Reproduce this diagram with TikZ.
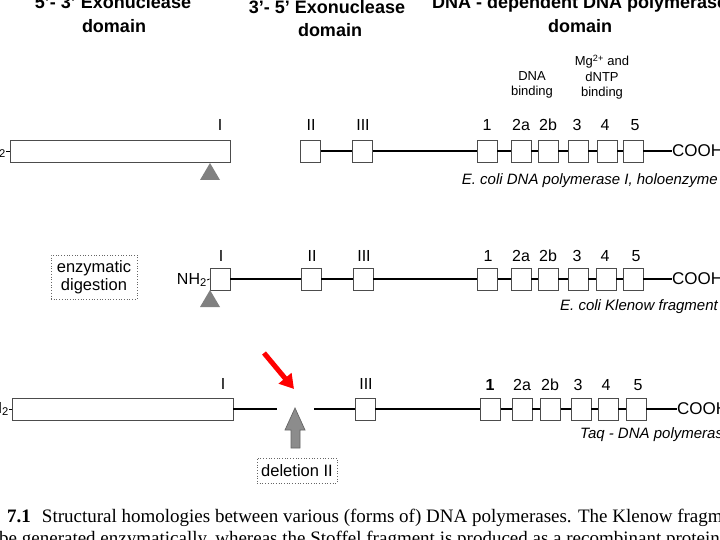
\documentclass[tikz,border=0pt]{standalone}
\usepackage{fontspec}
\setmainfont{Liberation Sans}
\newfontfamily\capserif{Liberation Serif}
\usetikzlibrary{arrows.meta}
\begin{document}
\begin{tikzpicture}[x=1pt,y=-1pt,
  dbox/.style={draw=black!70, fill=white, line width=0.8pt, minimum width=20pt, minimum height=22pt, inner sep=0pt},
  lbl/.style={font=\fontsize{16}{16}\selectfont, inner sep=0pt},
  cooh/.style={font=\fontsize{17}{17}\selectfont, inner sep=0pt},
  hdr/.style={font=\fontsize{18}{22}\selectfont\bfseries, inner sep=0pt, align=center},
  small/.style={font=\fontsize{13}{15.5}\selectfont, inner sep=0pt, align=center},
  capit/.style={font=\fontsize{15}{15}\selectfont\itshape, inner sep=0pt},
  link/.style={line width=1.7pt, black},
  dotbox/.style={draw=black!60, dotted, line width=0.7pt, font=\fontsize{16.5}{18.5}\selectfont, align=center, inner sep=0pt},
  tri/.style={fill=black!50},
  blockarrow/.style={fill=black!45, draw=black!60, line width=0.7pt},
  redarrow/.style={draw=red, line width=5pt, -{Triangle[width=16pt,length=14pt]}},
  figcap/.style={font=\capserif\fontsize{19}{22}\selectfont, inner sep=0pt}
]
\useasboundingbox (0,0) rectangle (720,540);
\clip (0,0) rectangle (720,540);
\fill[white] (0,0) rectangle (720,540);

% ---------- headers ----------
\node[hdr] (h1) at (113,2) {5'- 3' Exonuclease};
\node[hdr] (h1b) at (114,26) {domain};
\node[hdr] (h2) at (327,7) {3'- 5' Exonuclease};
\node[hdr] (h2b) at (330,30) {domain};
\node[hdr, anchor=west] (h3) at (432,4) {DNA - dependent DNA polymerase};
\node[hdr] (h3b) at (580,26) {domain};
\node[small] (dnab) at (532,85) {DNA\\binding};
\node[small] (mgb) at (602,77) {Mg\textsuperscript{2+} and\\dNTP\\binding};

% ---------- row 1: holoenzyme ----------
\node[dbox, minimum width=220pt] (aI) at (120,151) {};
\node[lbl, anchor=east] (aN) at (6,151) {NH\textsubscript{2}};
\draw[line width=0.8pt] (aN.east) -- (aI.west);
\node[dbox] (aII) at (310.5,151) {};
\node[dbox] (aIII) at (362.5,151) {};
\node[dbox] (a1) at (487,151) {};
\node[dbox] (a2a) at (521,151) {};
\node[dbox] (a2b) at (548,151) {};
\node[dbox] (a3) at (578,151) {};
\node[dbox] (a4) at (607,151) {};
\node[dbox] (a5) at (633,151) {};
\node[cooh, anchor=west] (aC) at (672,151) {COOH};
\draw[link] (aII) -- (aIII) -- (a1) -- (a2a) -- (a2b) -- (a3) -- (a4) -- (a5) -- (aC);
\node[lbl] (laI) at (220,125) {I};
\node[lbl] (laII) at (311,125) {II};
\node[lbl] (laIII) at (363,125) {III};
\node[lbl] (la1) at (487,125) {1};
\node[lbl] (la2a) at (521,125) {2a};
\node[lbl] (la2b) at (548,125) {2b};
\node[lbl] (la3) at (577,125) {3};
\node[lbl] (la4) at (605,125) {4};
\node[lbl] (la5) at (635,125) {5};
\fill[tri] (200,180) -- (210,163) -- (220,180) -- cycle;
\node[capit, anchor=east] (capA) at (718,181) {E. coli DNA polymerase I, holoenzyme};

% ---------- row 2: Klenow ----------
\node[dotbox, minimum width=86pt, minimum height=44pt] (enz) at (94,277) {enzymatic\\digestion};
\node[dbox] (bI) at (220,279) {};
\node[lbl, anchor=east] (bN) at (207,280) {NH\textsubscript{2}};
\draw[line width=0.8pt] (bN.east) -- (bI.west);
\node[dbox] (bII) at (311,279) {};
\node[dbox] (bIII) at (363,279) {};
\node[dbox] (b1) at (487.5,279) {};
\node[dbox] (b2a) at (521,279) {};
\node[dbox] (b2b) at (548,279) {};
\node[dbox] (b3) at (578,279) {};
\node[dbox] (b4) at (606,279) {};
\node[dbox] (b5) at (633,279) {};
\node[cooh, anchor=west] (bC) at (672,279) {COOH};
\draw[link] (bI) -- (bII) -- (bIII) -- (b1) -- (b2a) -- (b2b) -- (b3) -- (b4) -- (b5) -- (bC);
\node[lbl] (lbI) at (221,256) {I};
\node[lbl] (lbII) at (312,256) {II};
\node[lbl] (lbIII) at (364,256) {III};
\node[lbl] (lb1) at (488,256) {1};
\node[lbl] (lb2a) at (521,256) {2a};
\node[lbl] (lb2b) at (548,256) {2b};
\node[lbl] (lb3) at (577,256) {3};
\node[lbl] (lb4) at (605,256) {4};
\node[lbl] (lb5) at (636,256) {5};
\fill[tri] (200,307) -- (210,290) -- (220,307) -- cycle;
\node[capit, anchor=east] (capB) at (718,307) {E. coli Klenow fragment};

% ---------- row 3: Taq ----------
\node[dbox, minimum width=221pt] (cI) at (122.5,409) {};
\node[lbl, anchor=east] (cN) at (9,409) {NH\textsubscript{2}};
\draw[line width=0.8pt] (cN.east) -- (cI.west);
\coordinate (gapL) at (277,409);
\coordinate (gapR) at (314,409);
\node[dbox] (cIII) at (365,409) {};
\node[dbox] (c1) at (490.5,409) {};
\node[dbox] (c2a) at (522,409) {};
\node[dbox] (c2b) at (550.5,409) {};
\node[dbox] (c3) at (581,409) {};
\node[dbox] (c4) at (608,409) {};
\node[dbox] (c5) at (636,409) {};
\node[cooh, anchor=west] (cC) at (677,409) {COOH};
\draw[link] (cI) -- (gapL);
\draw[link] (gapR) -- (cIII) -- (c1) -- (c2a) -- (c2b) -- (c3) -- (c4) -- (c5) -- (cC);
\node[lbl] (lcI) at (223,384) {I};
\node[lbl] (lcIII) at (366,384) {III};
\node[lbl, font=\fontsize{16}{16}\selectfont\bfseries] (lc1) at (490,385) {1};
\node[lbl] (lc2a) at (522,385) {2a};
\node[lbl] (lc2b) at (550,385) {2b};
\node[lbl] (lc3) at (578,385) {3};
\node[lbl] (lc4) at (606,385) {4};
\node[lbl] (lc5) at (638,385) {5};
\node[capit, anchor=west] (capC) at (580,435) {Taq - DNA polymerase};

\coordinate (redtail) at (264,353);
\coordinate (redtip) at (294,389);
\draw[redarrow] (redtail) -- (redtip);
\draw[blockarrow] (295,408) -- (305,430) -- (300,430) -- (300,448) -- (291,448) -- (291,430) -- (285,430) -- cycle;
\node[dotbox, minimum width=80pt, minimum height=25pt] (del) at (297,470.5) {deletion II};

% ---------- figure caption ----------
\node[figcap, anchor=base west] (fc1) at (7,522) {\textbf{7.1}\hspace{11pt}Structural homologies between various (forms of) DNA polymerases. The Klenow fragment can};
\node[figcap, anchor=base west] (fc2) at (-1,544) {be generated enzymatically, whereas the Stoffel fragment is produced as a recombinant protein};
\end{tikzpicture}
\end{document}
